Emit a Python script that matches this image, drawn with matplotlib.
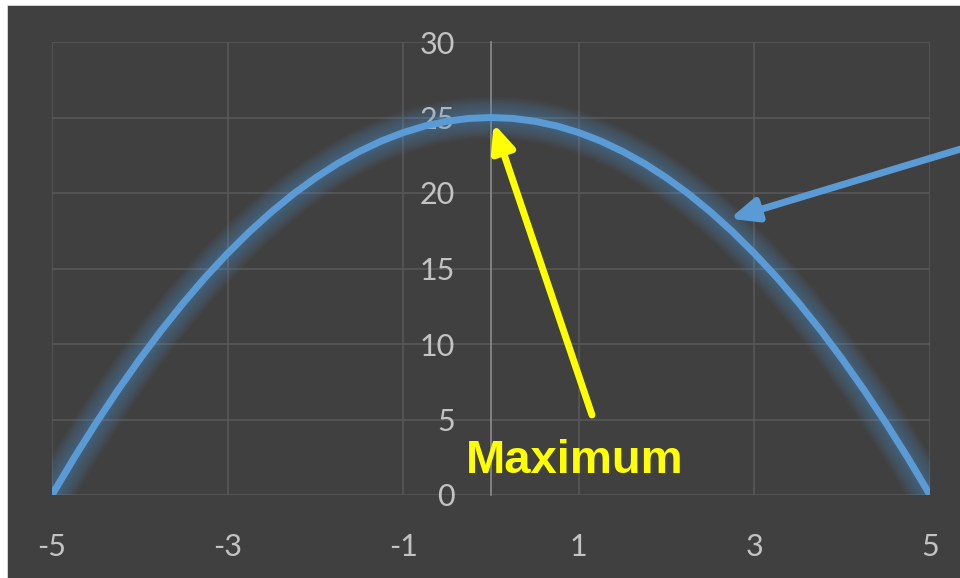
import matplotlib
matplotlib.use("Agg")
from matplotlib import pyplot as plt
from matplotlib.patches import Rectangle
from matplotlib.lines import Line2D

plt.rcParams["axes.unicode_minus"] = False

# curve y against x, read at quarter steps
xs = [-5, -4.75, -4.5, -4.25, -4, -3.75, -3.5, -3.25, -3, -2.75, -2.5, -2.25, -2, -1.75,
      -1.5, -1.25, -1, -0.75, -0.5, -0.25, 0, 0.25, 0.5, 0.75, 1, 1.25, 1.5, 1.75, 2,
      2.25, 2.5, 2.75, 3, 3.25, 3.5, 3.75, 4, 4.25, 4.5, 4.75, 5]
ys = [0, 2.44, 4.75, 6.94, 9, 10.94, 12.75, 14.44, 16, 17.44, 18.75, 19.94, 21, 21.94,
      22.75, 23.44, 24, 24.44, 24.75, 24.94, 25, 24.94, 24.75, 24.44, 24, 23.44, 22.75,
      21.94, 21, 19.94, 18.75, 17.44, 16, 14.44, 12.75, 10.94, 9, 6.94, 4.75, 2.44, 0]

x_ticks = [-5, -3, -1, 1, 3, 5]
y_ticks = [0, 5, 10, 15, 20, 25, 30]

bg = "#404040"
grid_col = "#585858"
text_col = "#c3c3c3"
blue = "#5b9bd5"

fig = plt.figure(figsize=(9.6, 5.78), dpi=100, facecolor="white")
# dark panel, light edge only along the top and left
x0, y1 = 8 / 960, 1 - 6 / 578
fig.patches.append(Rectangle((x0, 0), 1, y1, transform=fig.transFigure,
                             facecolor=bg, edgecolor="none", zorder=-1))
fig.lines.append(Line2D([x0, x0, 1], [0, y1, y1], transform=fig.transFigure,
                        color="#d4d4d4", lw=1.5, zorder=-1))

ax = fig.add_axes([52 / 960, 83 / 578, 878 / 960, 453 / 578])
ax.set_facecolor("none")
ax.set_xlim(-5, 5)
ax.set_ylim(0, 30)

ax.set_xticks(x_ticks)
ax.set_yticks(y_ticks)
ax.grid(True, color=grid_col, lw=1.2)
ax.set_axisbelow(True)

for side in ["top", "right", "bottom"]:
    ax.spines[side].set_visible(False)
ax.spines["left"].set_position(("data", 0))
ax.spines["left"].set_color("#8c8c8c")
ax.spines["left"].set_linewidth(1.2)
ax.spines["left"].set_zorder(1)

ax.tick_params(axis="both", length=0, colors=text_col, labelsize=22)
ax.tick_params(axis="y", pad=26)
ax.tick_params(axis="x", pad=27)
for lab in ax.get_xticklabels() + ax.get_yticklabels():
    lab.set_fontfamily("Lato")

# soft glow under the curve
for w in range(30, 7, -2):
    ax.plot(xs, ys, color=blue, lw=w, alpha=0.04, solid_capstyle="butt", zorder=2)
ax.plot(xs, ys, color=blue, lw=5, solid_capstyle="butt", zorder=3)

head = "-|>,head_length=0.8,head_width=0.35"
ax.annotate("", xy=(0.03, 24.6), xytext=(1.15, 5.3),
            arrowprops=dict(arrowstyle=head, mutation_scale=20, color="#ffff00",
                            lw=5, shrinkA=0, shrinkB=0), zorder=4)
ax.annotate("", xy=(2.72, 18.3), xytext=(5.4, 23.0), annotation_clip=False,
            arrowprops=dict(arrowstyle=head, mutation_scale=20, color=blue,
                            lw=5, shrinkA=0, shrinkB=0), zorder=4)

ax.text(0.95, 1.45, "Maximum", color="#ffff00", fontsize=34, fontweight="bold",
        fontfamily="Liberation Sans", ha="center", va="baseline", zorder=5)

fig.savefig("out.png", dpi=100, facecolor=fig.get_facecolor())
